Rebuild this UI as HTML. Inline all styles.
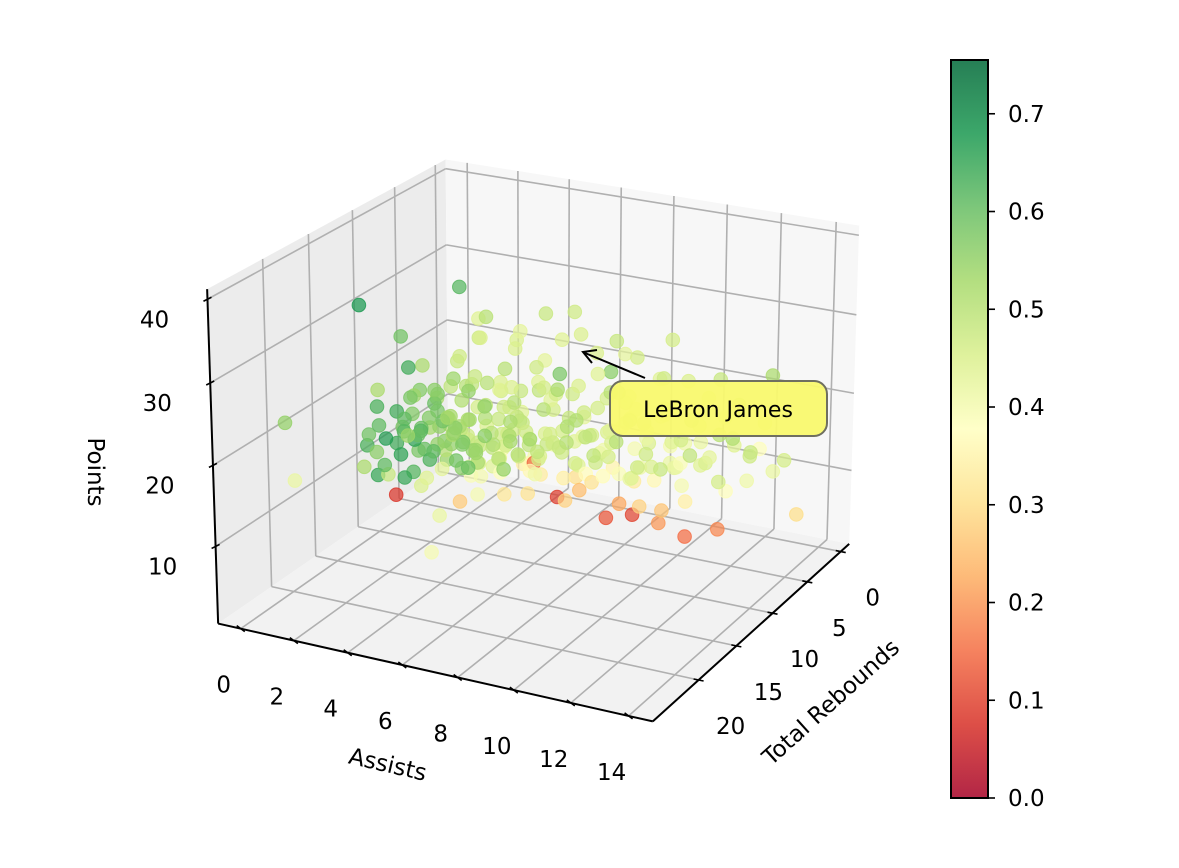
<!DOCTYPE html>
<html><head><meta charset="utf-8"><style>
html,body{margin:0;padding:0;background:#fff;}
svg{display:block;font-family:"DejaVu Sans","Liberation Sans",sans-serif;}
</style></head><body>
<svg id="chart" width="1179" height="868" viewBox="0 0 1179 868" xmlns="http://www.w3.org/2000/svg">
<defs><linearGradient id="cbgrad" x1="0" y1="1" x2="0" y2="0"></linearGradient></defs>
<g id="panes"></g>
<g id="grid"></g>
<g id="axes"></g>
<g id="points"></g>
<g id="labels" font-size="23" fill="#000"></g>
<text x="0" y="0" font-size="23" text-anchor="middle" transform="translate(88,472) rotate(90)">Points</text>
<text x="0" y="0" font-size="23" text-anchor="middle" transform="translate(386,772) rotate(13)">Assists</text>
<text x="0" y="0" font-size="23" text-anchor="middle" transform="translate(836,708) rotate(-42)">Total Rebounds</text>
<g>
<line x1="645" y1="378" x2="585" y2="353" stroke="#000" stroke-width="2"/>
<polyline points="592,363 583,352 597,350" fill="none" stroke="#000" stroke-width="2"/>
<rect x="610" y="381" width="217" height="55" rx="13" fill="#f9f96e" fill-opacity="0.95" stroke="#6f6f60" stroke-width="2"/>
<text x="718" y="417" font-size="22" text-anchor="middle">LeBron James</text>
</g>
<g id="colorbar"></g>
</svg>
<script>
// data: [assists, rebounds, points, fg%]
const assists = [];
const rebounds = [];
const pointsPG = [];
const fgPct = [];
const rows = [
[0.8,9.5,14.2,0.58],[1.3,10.8,16.5,0.61],[1.9,8.7,12.1,0.55],[0.6,11.9,18.4,0.63],[2.3,9.9,19.7,0.57],[1.1,7.8,10.3,0.60],[1.7,12.5,13.4,0.66],[0.9,8.4,17.6,0.54],[2.6,11.2,21.3,0.56],[1.4,10.1,9.2,0.62],
[0.7,13.2,15.8,0.59],[2.0,7.4,14.9,0.53],[1.5,9.2,22.4,0.52],[3.1,10.5,15.6,0.55],[0.4,9.0,11.5,0.64],[1.8,11.6,20.1,0.58],[2.9,8.9,9.8,0.56],[1.2,12.9,12.0,0.61],[0.5,10.6,13.3,0.67],[2.4,13.8,17.2,0.54],
[1.0,6.9,13.7,0.57],[3.4,12.2,19.0,0.53],[1.6,8.1,16.8,0.60],[2.1,10.3,11.4,0.63],[0.3,11.0,8.7,0.65],[2.8,7.7,18.9,0.55],[1.3,14.1,14.6,0.56],[3.6,9.4,12.6,0.54],[0.8,12.4,21.0,0.52],[2.2,6.5,11.0,0.58],
[0.0,12.0,31.0,0.68],[1.0,3.0,28.2,0.62],[0.0,20.5,22.0,0.55],[0.5,21.0,15.5,0.42],[1.0,11.0,6.6,0.08],[3.0,13.0,2.0,0.40],[1.7,11.5,23.8,0.64],[0.9,9.9,26.2,0.59],
[2.1,4.3,14.0,0.46],[3.2,5.1,17.5,0.44],[2.7,3.6,12.3,0.48],[4.0,6.2,19.1,0.45],[3.5,4.8,15.2,0.47],[1.8,5.5,11.7,0.49],[4.6,3.9,21.4,0.43],[2.4,6.7,18.6,0.50],[3.9,5.6,13.1,0.46],[5.0,4.5,16.9,0.44],
[2.9,7.2,20.5,0.48],[1.6,4.0,9.7,0.47],[3.3,3.2,22.8,0.45],[4.4,5.3,11.2,0.49],[2.0,6.0,16.0,0.51],[5.3,6.4,20.0,0.46],[3.0,4.1,8.9,0.42],[4.8,7.0,14.4,0.47],[2.5,5.2,23.9,0.45],[3.7,6.9,10.1,0.50],
[1.4,4.6,19.8,0.48],[4.2,3.4,18.0,0.44],[5.6,5.0,13.6,0.46],[2.2,7.8,12.9,0.52],[3.8,4.4,25.0,0.43],[4.9,6.0,22.1,0.47],[2.6,3.0,16.7,0.45],[3.4,7.5,17.3,0.49],[1.9,5.9,21.6,0.47],[4.5,4.9,9.5,0.40],
[2.8,6.3,10.8,0.48],[5.2,3.7,24.3,0.44],[3.6,5.7,20.9,0.50],[4.1,7.3,12.4,0.46],[2.3,4.8,26.0,0.44],[3.1,6.6,14.8,0.51],[4.7,4.2,12.1,0.45],[1.7,6.4,17.9,0.49],[5.5,5.5,18.7,0.46],[3.9,3.6,10.5,0.43],
[2.0,3.8,22.7,0.47],[4.3,6.7,24.6,0.45],[3.3,5.4,9.0,0.38],[2.6,7.0,8.4,0.41],[4.0,4.0,7.6,0.36],[3.6,3.4,6.8,0.34],[2.9,5.0,7.2,0.44],[5.0,5.8,8.1,0.33],[4.4,3.1,26.8,0.48],[3.0,6.1,27.5,0.50],
[6.1,4.6,19.5,0.45],[7.0,5.2,22.0,0.44],[6.6,3.8,16.4,0.46],[7.8,4.4,24.5,0.43],[8.3,5.6,20.2,0.45],[6.8,6.3,17.7,0.47],[9.0,4.0,21.8,0.44],[7.4,3.3,14.1,0.42],[8.7,6.0,25.7,0.46],[6.3,5.0,26.5,0.45],
[9.5,5.1,18.3,0.43],[7.1,4.7,11.9,0.41],[8.0,3.6,17.0,0.44],[10.2,4.5,22.6,0.45],[6.0,6.8,13.0,0.48],[8.9,5.4,15.1,0.42],[7.6,6.1,19.9,0.46],[10.8,3.9,20.4,0.44],[9.8,6.4,24.0,0.47],[11.5,4.2,18.6,0.43],
[6.5,3.6,23.3,0.45],[7.9,5.9,27.2,0.48],[12.2,5.0,21.2,0.50],[9.2,3.2,12.7,0.40],[11.0,5.7,16.2,0.42],[8.5,4.8,10.6,0.41],[13.0,4.4,19.0,0.44],[10.5,6.6,13.8,0.39],[5.8,4.1,28.5,0.47],[7.3,5.5,9.2,0.37],
[12.6,3.5,14.8,0.38],[9.7,4.9,27.8,0.46],[8.2,6.7,21.4,0.52],[6.9,3.1,20.8,0.56],[11.8,6.1,24.9,0.48],[6.2,7.4,23.0,0.58],[14.0,3.5,7.3,0.30],[13.5,5.4,26.0,0.52],
[10.0,4.0,2.0,0.15],[8.0,4.0,3.5,0.10],[7.0,4.0,2.4,0.12],[9.0,4.0,3.1,0.20],[7.5,4.0,4.6,0.22],[5.4,5.0,4.8,0.09],[4.5,5.0,8.7,0.14],[6.2,4.8,6.1,0.25],[8.6,5.2,5.9,0.28],[11.3,4.3,4.1,0.18],[5.8,3.9,6.9,0.30],[9.6,5.8,6.5,0.26],[3.8,6.5,5.2,0.32],[2.5,7.9,4.4,0.27],[6.9,5.6,8.2,0.31],
[1.2,5.1,12.5,0.50],[2.3,6.2,13.8,0.52],[3.1,4.5,11.2,0.47],[4.2,5.8,14.6,0.49],[5.1,4.9,12.8,0.46],[6.0,5.5,15.9,0.48],[7.2,4.6,14.2,0.45],[8.1,5.3,16.5,0.47],[2.8,7.6,15.1,0.53],[3.9,8.2,13.0,0.51],
[1.6,6.8,9.8,0.50],[2.4,5.3,10.2,0.48],[3.5,6.1,9.4,0.46],[4.6,7.4,11.6,0.50],[5.7,6.6,13.3,0.47],[6.8,4.2,10.9,0.44],[7.7,6.2,12.5,0.46],[8.8,4.7,13.9,0.45],[9.9,5.6,15.4,0.44],[10.6,4.4,17.1,0.46],
[1.0,5.9,15.6,0.52],[2.0,4.7,17.2,0.49],[3.0,3.9,14.3,0.47],[4.0,4.8,13.5,0.48],[5.0,5.9,10.6,0.45],[6.0,3.7,12.2,0.43],[7.0,6.8,15.0,0.49],[8.0,5.0,18.8,0.47],[9.0,6.1,17.6,0.48],[10.0,5.3,12.0,0.42],
[1.5,7.2,13.1,0.55],[2.5,8.4,14.4,0.56],[3.5,9.1,12.7,0.54],[4.5,8.0,16.2,0.52],[5.5,7.1,17.8,0.50],[6.5,6.4,11.0,0.46],[7.5,5.1,13.4,0.45],[8.5,3.9,14.7,0.44],[9.5,4.3,11.5,0.42],[11.2,5.2,14.0,0.43],
[0.8,6.2,11.8,0.53],[1.9,7.0,10.9,0.55],[2.7,4.4,9.1,0.49],[3.8,5.2,16.3,0.50],[4.9,3.8,15.1,0.46],[5.9,4.7,18.4,0.47],[6.9,5.9,14.5,0.48],[7.9,4.0,16.0,0.45],[8.9,6.6,12.2,0.47],[12.0,4.8,15.8,0.44],
[2.1,9.3,17.0,0.58],[3.3,10.1,14.0,0.57],[1.3,8.8,13.9,0.60],[2.9,9.6,11.3,0.59],[4.1,9.9,15.5,0.56],[1.8,10.4,15.0,0.62],[0.7,8.0,14.8,0.57],[3.7,8.6,18.1,0.55],[2.6,11.4,13.6,0.61],[1.1,9.0,12.4,0.66],
[5.2,6.9,12.0,0.49],[6.3,5.3,9.8,0.44],[4.3,6.3,10.4,0.47],[3.2,7.9,10.0,0.52],[7.4,7.1,13.1,0.49],[6.6,7.8,16.8,0.51],[5.4,8.5,14.9,0.53],[8.3,7.3,15.6,0.50],[9.3,6.9,14.4,0.47],[10.4,6.2,16.4,0.46],
[2.2,3.5,11.0,0.45],[3.4,2.9,13.2,0.44],[4.7,3.2,10.0,0.42],[5.8,2.8,14.0,0.43],[1.4,3.3,8.5,0.47],[2.5,2.6,15.2,0.46],[6.7,2.5,12.6,0.41],[7.8,3.0,11.3,0.40],[8.7,2.7,15.9,0.42],[9.8,3.4,13.6,0.41],
[4.0,5.0,17.8,0.48],[5.0,6.0,19.2,0.49],[6.0,7.0,20.6,0.52],[7.0,8.0,18.0,0.51],[3.0,6.0,18.9,0.50],[2.0,7.0,19.5,0.54],[1.0,8.0,18.1,0.57],[8.0,7.0,21.5,0.50],[9.0,8.0,19.3,0.49],[10.0,7.0,20.7,0.48],
[3.5,6.0,7.5,0.38],[4.5,5.5,8.0,0.36],[5.5,4.5,7.0,0.34],[6.5,5.0,8.6,0.37],[2.5,6.5,6.8,0.39],[7.2,3.8,9.0,0.35],[8.2,4.5,8.4,0.33],[4.8,6.8,6.2,0.31],[3.2,7.5,7.9,0.40],[5.2,7.2,9.3,0.41],
[6.0,6.0,5.5,0.28],[9.1,5.0,9.5,0.36],[10.4,5.5,8.0,0.34],[2.0,8.5,8.8,0.43],[1.5,9.5,7.0,0.45],[2.2,11.0,9.6,0.44],[3.0,12.0,6.0,0.42],[4.0,10.5,8.3,0.40],[1.2,12.5,10.5,0.48],[0.6,13.5,11.8,0.52],
[0.9,10.5,17.0,0.64],[1.6,11.8,15.8,0.62],[2.4,12.6,16.4,0.60],[0.5,12.8,14.0,0.63],[3.0,11.5,17.8,0.59],[1.2,13.5,17.5,0.61],[2.0,13.0,11.0,0.65],[3.8,11.0,12.0,0.60],
[11.0,5.0,13.0,0.45],[12.5,4.5,14.5,0.47],[10.5,3.8,11.5,0.44],[11.8,6.2,12.0,0.46],[12.8,5.6,16.0,0.48],[9.6,4.1,10.8,0.43],[10.9,6.8,15.2,0.49],[13.2,3.9,12.6,0.42],[9.2,5.8,11.9,0.45],[12.1,3.3,10.2,0.41],
[10.1,4.9,9.4,0.40],[11.6,5.4,17.3,0.50],[13.8,4.7,15.0,0.46],[8.6,6.3,10.4,0.44],[9.9,7.1,13.0,0.48],[12.4,6.6,18.2,0.51],[7.6,4.4,8.9,0.39],[8.4,5.8,9.8,0.42],[11.4,3.6,8.6,0.38],[10.7,5.9,18.9,0.49],
[3.0,5.5,12.0,0.50],[4.0,6.5,13.0,0.52],[5.0,5.0,11.5,0.48],[2.0,6.3,12.8,0.53],[3.6,4.2,13.6,0.49],[4.8,5.4,9.7,0.46],[5.9,6.1,11.8,0.47],[6.7,4.9,13.7,0.46],[2.6,5.8,8.0,0.45],[1.8,7.5,11.6,0.56],
[3.3,8.8,12.3,0.55],[4.4,7.7,13.4,0.53],[5.6,3.4,11.1,0.44],[6.4,7.2,14.2,0.50],[7.3,6.5,11.7,0.47],[2.9,3.1,10.2,0.46],[1.0,4.4,11.0,0.51],[0.6,7.0,9.2,0.58],[1.4,6.0,7.8,0.54],[4.6,9.2,11.0,0.55]
];
rows.forEach(r=>{assists.push(r[0]);rebounds.push(r[1]);pointsPG.push(r[2]);fgPct.push(r[3]);});
const xTicks = [0,2,4,6,8,10,12,14];
const yTicks = [0,5,10,15,20];
const zTicks = [10,20,30,40];
const cbTicks = [0.0,0.1,0.2,0.3,0.4,0.5,0.6,0.7];

const NS="http://www.w3.org/2000/svg";
const AMIN=-0.86,AMAX=14.83,RMIN=-1.3,RMAX=25.8,PMIN=0.33,PMAX=41.2;
const VMAX=0.755;
const calib=[[0,1,0,219,625],[1,1,0,651,722],[1,0,0,850,542],[0,1,1,208,287],[0,0,1,444,160],[1,0,1,860,227]];
function solveLS(){
  const A=[],b=[];
  calib.forEach(c=>{const [X,Y,Z,x,y]=c;
    A.push([X,Y,Z,1,0,0,0,0,-x*X,-x*Y,-x*Z]);b.push(x);
    A.push([0,0,0,0,X,Y,Z,1,-y*X,-y*Y,-y*Z]);b.push(y);});
  const n=11,M=[];
  for(let i=0;i<n;i++){M.push(new Array(n+1).fill(0));
    for(let j=0;j<n;j++){let s=0;for(let k=0;k<A.length;k++)s+=A[k][i]*A[k][j];M[i][j]=s;}
    let s=0;for(let k=0;k<A.length;k++)s+=A[k][i]*b[k];M[i][n]=s;}
  for(let i=0;i<n;i++){let p=i;for(let r=i+1;r<n;r++)if(Math.abs(M[r][i])>Math.abs(M[p][i]))p=r;
    [M[i],M[p]]=[M[p],M[i]];
    for(let r=0;r<n;r++){if(r===i)continue;const f=M[r][i]/M[i][i];for(let c=i;c<=n;c++)M[r][c]-=f*M[i][c];}}
  return M.map((r,i)=>r[n]/r[i]);
}
const P=solveLS();
function proj(u,v,w){const d=P[8]*u+P[9]*v+P[10]*w+1;
  return [(P[0]*u+P[1]*v+P[2]*w+P[3])/d,(P[4]*u+P[5]*v+P[6]*w+P[7])/d];}
const uA=a=>(a-AMIN)/(AMAX-AMIN), vR=r=>(r-RMIN)/(RMAX-RMIN), wP=p=>(p-PMIN)/(PMAX-PMIN);

const stops=[[165,0,38],[215,48,39],[244,109,67],[253,174,97],[254,224,139],[255,255,191],[217,239,139],[166,217,106],[102,189,99],[26,152,80],[0,104,55]];
function cmap(t){t=Math.max(0,Math.min(1,t))*10;const i=Math.min(9,Math.floor(t)),f=t-i;
  const c=stops[i].map((v,k)=>Math.round(v+(stops[i+1][k]-v)*f));return `rgb(${c[0]},${c[1]},${c[2]})`;}

function el(tag,attrs,parent){const e=document.createElementNS(NS,tag);for(const k in attrs)e.setAttribute(k,attrs[k]);parent.appendChild(e);return e;}
const panes=document.getElementById('panes'),grid=document.getElementById('grid'),axes=document.getElementById('axes'),
pts=document.getElementById('points'),labels=document.getElementById('labels'),cb=document.getElementById('colorbar');
function poly(c3,fill,name){const p=el('polygon',{points:c3.map(c=>proj(...c).join(',')).join(' '),fill:fill},panes);
  
  }
poly([[0,0,0],[0,1,0],[0,1,1],[0,0,1]],'#ececec','left-pane');
poly([[0,0,0],[1,0,0],[1,0,1],[0,0,1]],'#f7f7f7','back-pane');
poly([[0,0,0],[1,0,0],[1,1,0],[0,1,0]],'#f2f2f2','floor-pane');
function line(p1,p2,parent,stroke,sw,name){const a=proj(...p1),b=proj(...p2);
  const l=el('line',{x1:a[0],y1:a[1],x2:b[0],y2:b[1],stroke:stroke,'stroke-width':sw},parent);
  
  return l;}
const G='#b0b0b0';
xTicks.forEach(t=>{const u=uA(t);line([u,0,0],[u,1,0],grid,G,1.6,'gridline-x');line([u,0,0],[u,0,1],grid,G,1.6,'gridline-x');});
yTicks.forEach(t=>{const v=vR(t);line([0,v,0],[1,v,0],grid,G,1.6,'gridline-y');line([0,v,0],[0,v,1],grid,G,1.6,'gridline-y');});
zTicks.forEach(t=>{const w=wP(t);line([0,0,w],[0,1,w],grid,G,1.6,'gridline-z');line([0,0,w],[1,0,w],grid,G,1.6,'gridline-z');});
line([0,1,0],[1,1,0],axes,'#000',2,'x-axis-line');
line([1,1,0],[1,0,0],axes,'#000',2,'y-axis-line');
line([0,1,0],[0,1,1],axes,'#000',2,'z-axis-line');
function tick(p,dx,dy,name){const l=el('line',{x1:p[0]-dx,y1:p[1]-dy,x2:p[0]+dx,y2:p[1]+dy,stroke:'#000','stroke-width':1.6},axes);
  
  }
function label(txt,x,y,name){const t=el('text',{x:x,y:y,'text-anchor':'middle'},labels);t.textContent=txt;
  
  }
xTicks.forEach(t=>{const p=proj(uA(t),1,0);tick(p,-4,-3,'x-tick');label(t,p[0]-17,p[1]+64,'x-tick-label');});
yTicks.forEach(t=>{const p=proj(1,vR(t),0);tick(p,5,1,'y-tick');label(t,p[0]+32,p[1]+54,'y-tick-label');});
zTicks.forEach(t=>{const p=proj(0,1,wP(t));tick(p,4,-2,'z-tick');label(t,p[0]-53,p[1]+28,'z-tick-label');});

const order=assists.map((a,i)=>i).sort((i,j)=>(uA(assists[i])+vR(rebounds[i]))-(uA(assists[j])+vR(rebounds[j])));
order.forEach(i=>{const p=proj(uA(assists[i]),vR(rebounds[i]),wP(pointsPG[i]));const col=cmap(fgPct[i]/VMAX);
  const c=el('circle',{cx:p[0].toFixed(1),cy:p[1].toFixed(1),r:6.8,fill:col,'fill-opacity':0.72,stroke:col,'stroke-opacity':0.8,'stroke-width':1},pts);
  
  });

const grad=document.getElementById('cbgrad');
stops.forEach((s,i)=>{el('stop',{offset:(i/10),'stop-color':`rgb(${s.join(',')})`},grad);});
const CB={x:951,y:60,w:37,h:738};
const r=el('rect',{x:CB.x,y:CB.y,width:CB.w,height:CB.h,fill:'url(#cbgrad)','fill-opacity':0.85,stroke:'#000','stroke-width':2},cb);


cbTicks.forEach(t=>{const y=CB.y+CB.h-(t/VMAX)*CB.h;
  const l=el('line',{x1:CB.x+CB.w,y1:y,x2:CB.x+CB.w+7,y2:y,stroke:'#000','stroke-width':1.6},cb);
  
  
  const tx=el('text',{x:1008,y:y+8,'font-size':23},cb);tx.textContent=t.toFixed(1);
  
  });
</script>
</body></html>
